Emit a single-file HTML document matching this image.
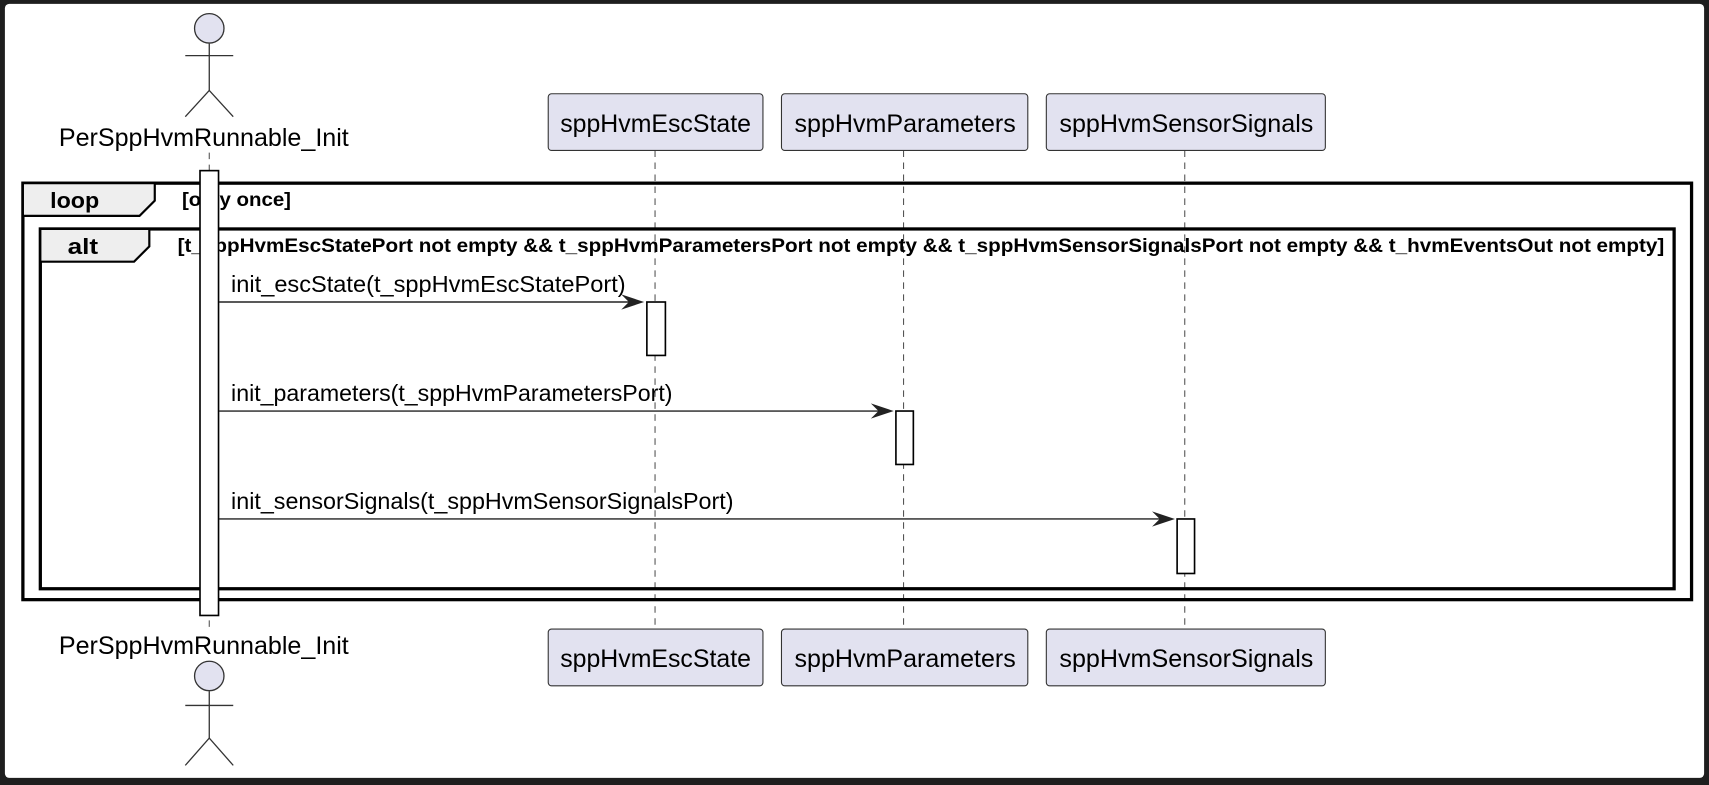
<!DOCTYPE html>
<html><head><meta charset="utf-8"><style>
html,body{margin:0;padding:0;background:#1e1e1e;overflow:hidden}
svg{display:block}
text{font-family:"Liberation Sans",Arial,sans-serif;fill:#000}
</style></head><body>
<svg width="1709" height="785" viewBox="0 0 1568 720" preserveAspectRatio="none" xmlns="http://www.w3.org/2000/svg">
<rect x="0" y="0" width="1568" height="720" fill="#1e1e1e"/>
<rect x="4.5" y="3.5" width="1559" height="710" rx="4" fill="#fff"/>
<g stroke="#555" stroke-width="1" stroke-dasharray="6,5">
<line x1="192" y1="140" x2="192" y2="577"/>
<line x1="601" y1="138" x2="601" y2="577"/>
<line x1="829" y1="138" x2="829" y2="577"/>
<line x1="1087" y1="138" x2="1087" y2="577"/>
</g>
<g stroke="#333" stroke-width="1.2" fill="none">
<circle cx="192" cy="26" r="13.5" fill="#E2E2F0"/>
<line x1="192" y1="40" x2="192" y2="83"/>
<line x1="170" y1="51" x2="214" y2="51"/>
<polyline points="170,107 192,83 214,107"/>
<circle cx="192" cy="620" r="13.5" fill="#E2E2F0"/>
<line x1="192" y1="634" x2="192" y2="677"/>
<line x1="170" y1="647" x2="214" y2="647"/>
<polyline points="170,702 192,677 214,702"/>
</g>
<text x="54" y="134" font-size="22.5" textLength="266" lengthAdjust="spacingAndGlyphs">PerSppHvmRunnable_Init</text>
<text x="54" y="600" font-size="22.5" textLength="266" lengthAdjust="spacingAndGlyphs">PerSppHvmRunnable_Init</text>
<g fill="#E2E2F0" stroke="#333" stroke-width="1">
<rect x="503" y="86" width="197" height="52" rx="3"/>
<rect x="717" y="86" width="226" height="52" rx="3"/>
<rect x="960" y="86" width="256" height="52" rx="3"/>
<rect x="503" y="577" width="197" height="52" rx="3"/>
<rect x="717" y="577" width="226" height="52" rx="3"/>
<rect x="960" y="577" width="256" height="52" rx="3"/>
</g>
<g font-size="22.5">
<text x="514" y="121" textLength="175" lengthAdjust="spacingAndGlyphs">sppHvmEscState</text>
<text x="729" y="121" textLength="203" lengthAdjust="spacingAndGlyphs">sppHvmParameters</text>
<text x="972" y="121" textLength="233" lengthAdjust="spacingAndGlyphs">sppHvmSensorSignals</text>
<text x="514" y="612" textLength="175" lengthAdjust="spacingAndGlyphs">sppHvmEscState</text>
<text x="729" y="612" textLength="203" lengthAdjust="spacingAndGlyphs">sppHvmParameters</text>
<text x="972" y="612" textLength="233" lengthAdjust="spacingAndGlyphs">sppHvmSensorSignals</text>
</g>
<rect x="21" y="168" width="1531" height="382" fill="none" stroke="#000" stroke-width="3"/>
<path d="M21,168 H142 V184 L128,198 H21 Z" fill="#EEEEEE" stroke="#000" stroke-width="2"/>
<text x="46" y="191" font-size="20" font-weight="bold" textLength="45" lengthAdjust="spacingAndGlyphs">loop</text>
<text x="167" y="189" font-size="18" font-weight="bold" textLength="100" lengthAdjust="spacingAndGlyphs">[only once]</text>
<rect x="37" y="210" width="1499" height="330" fill="none" stroke="#000" stroke-width="3"/>
<path d="M37,210 H137 V226 L123,240 H37 Z" fill="#EEEEEE" stroke="#000" stroke-width="2"/>
<text x="62" y="233" font-size="20" font-weight="bold" textLength="28" lengthAdjust="spacingAndGlyphs">alt</text>
<text x="163" y="231" font-size="18" font-weight="bold" textLength="1364" lengthAdjust="spacingAndGlyphs">[t_sppHvmEscStatePort not empty &amp;&amp; t_sppHvmParametersPort not empty &amp;&amp; t_sppHvmSensorSignalsPort not empty &amp;&amp; t_hvmEventsOut not empty]</text>
<g fill="#fff" stroke="#000" stroke-width="1.5">
<rect x="183.5" y="156.5" width="17" height="408"/>
<rect x="593.5" y="277" width="17" height="49"/>
<rect x="822" y="377" width="16" height="49"/>
<rect x="1080" y="476" width="16" height="50"/>
</g>
<g stroke="#222" stroke-width="1.3">
<line x1="201" y1="277" x2="588" y2="277"/>
<line x1="201" y1="377" x2="816" y2="377"/>
<line x1="201" y1="476" x2="1074" y2="476"/>
</g>
<g fill="#222">
<path d="M591,277 L570,270 L577,277 L570,284 Z"/>
<path d="M820,377 L799,370 L806,377 L799,384 Z"/>
<path d="M1078,476 L1057,469 L1064,476 L1057,483 Z"/>
</g>
<g font-size="21">
<text x="212" y="268" textLength="362" lengthAdjust="spacingAndGlyphs">init_escState(t_sppHvmEscStatePort)</text>
<text x="212" y="368" textLength="405" lengthAdjust="spacingAndGlyphs">init_parameters(t_sppHvmParametersPort)</text>
<text x="212" y="467" textLength="461" lengthAdjust="spacingAndGlyphs">init_sensorSignals(t_sppHvmSensorSignalsPort)</text>
</g>
</svg>
</body></html>
